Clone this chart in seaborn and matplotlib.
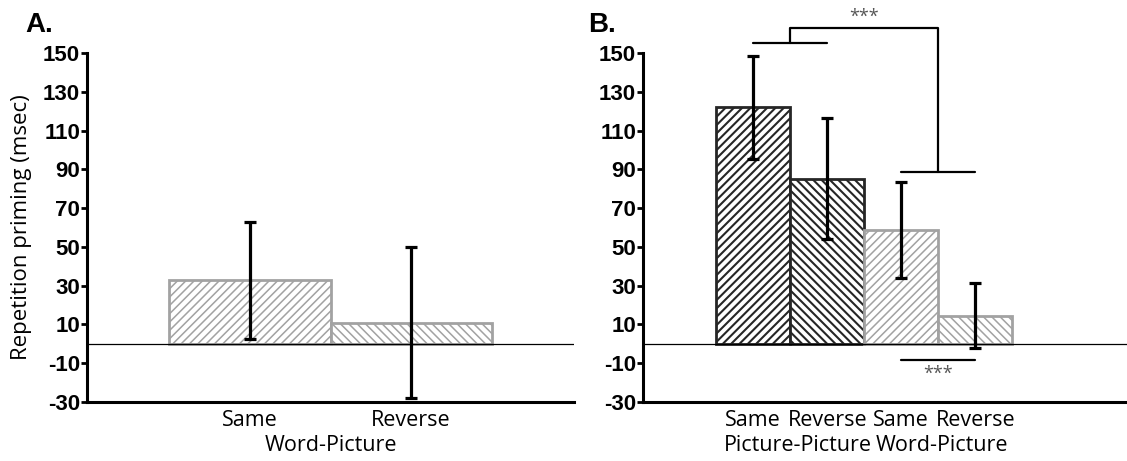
import seaborn as sns
import matplotlib.pyplot as plt
import pandas as pd

# values (msec)
a_conds = ["WP-Same", "WP-Reverse"]
a_ticks = ["Same", "Reverse"]
a_means = [32.7, 11.0]
a_errs = [30.3, 39.0]

b_conds = ["PP-Same", "PP-Reverse", "WP-Same", "WP-Reverse"]
b_ticks = ["Same", "Reverse", "Same", "Reverse"]
b_means = [122.0, 85.2, 58.8, 14.5]
b_errs = [26.6, 31.1, 24.9, 16.8]

y_ticks = list(range(150, -31, -20))

# colours
dark = "#262626"
light = "#a2a2a2"

sns.set_style("white")
plt.rcParams["font.family"] = ["Open Sans", "DejaVu Sans"]
plt.rcParams["hatch.linewidth"] = 1.3
for key in ["text.color", "axes.labelcolor", "xtick.color", "ytick.color"]:
    plt.rcParams[key] = "black"

fig = plt.figure(figsize=(11.27, 4.61), dpi=100)
ax_a = fig.add_axes([87 / 1127, 1 - 402 / 461, 487 / 1127, 349 / 461])
ax_b = fig.add_axes([643 / 1127, 1 - 402 / 461, 484 / 1127, 349 / 461])


def draw_panel(ax, conds, means, errs, ticks, edge_cols, hatches):
    df = pd.DataFrame({"cond": conds, "mean": means})
    sns.barplot(data=df, x="cond", y="mean", width=1.0, color="white",
                linewidth=2.0, errorbar=None, ax=ax, zorder=2)
    for p, ec, h in zip(ax.patches, edge_cols, hatches):
        p.set_facecolor("white")
        p.set_edgecolor(ec)
        p.set_hatch(h)
        if hasattr(p, "set_hatch_linewidth"):
            p.set_hatch_linewidth(1.5 if ec == dark else 1.1)
    xs = [p.get_x() + p.get_width() / 2 for p in ax.patches]
    ax.errorbar(xs, means, yerr=errs, fmt="none", ecolor="black",
                elinewidth=2.3, capsize=4.5, capthick=2.3, zorder=4)
    ax.axhline(0, color="black", lw=0.9, zorder=3)

    ax.set_ylim(-30, 150)
    ax.set_yticks(y_ticks)
    ax.set_yticklabels([str(t) for t in y_ticks], family=["Liberation Sans", "DejaVu Sans"],
                       fontweight="bold", fontsize=16)
    ax.set_xticks(range(len(conds)))
    ax.set_xticklabels(ticks, fontsize=15.5)
    ax.set_xlabel("")
    ax.set_ylabel("")
    ax.tick_params(axis="y", direction="out", length=4, width=2, pad=1, left=True,
                   colors="black")
    ax.tick_params(axis="x", length=0, pad=6, colors="black")
    for s in ["top", "right"]:
        ax.spines[s].set_visible(False)
    for s in ["left", "bottom"]:
        ax.spines[s].set_linewidth(2.2)
        ax.spines[s].set_color("black")


# panel A
draw_panel(ax_a, a_conds, a_means, a_errs, a_ticks,
           [light, light], ["////", "\\\\\\\\"])
ax_a.set_xlim(-1.01, 2.01)
ax_a.set_ylabel("Repetition priming (msec)", fontsize=16, color="black")
ax_a.yaxis.set_label_coords(-0.112, 0.5)
ax_a.text(0.5, -0.125, "Word-Picture", transform=ax_a.get_xaxis_transform(),
          ha="center", va="center", fontsize=15.5)

# panel B
draw_panel(ax_b, b_conds, b_means, b_errs, b_ticks,
           [dark, dark, light, light],
           ["////", "\\\\\\\\", "////", "\\\\\\\\"])
ax_b.set_xlim(-1.49, 5.05)
ax_b.text(0.6, -0.125, "Picture-Picture", transform=ax_b.get_xaxis_transform(),
          ha="center", va="center", fontsize=15.5)
ax_b.text(2.55, -0.125, "Word-Picture", transform=ax_b.get_xaxis_transform(),
          ha="center", va="center", fontsize=15.5)

# significance brackets
br = dict(color="black", lw=1.6, clip_on=False, zorder=5)
ax_b.plot([0, 1], [155.1, 155.1], **br)
ax_b.plot([0.5, 0.5, 2.5, 2.5], [155.1, 162.9, 162.9, 88.6], **br)
ax_b.plot([2, 3], [88.6, 88.6], **br)
ax_b.text(1.5, 168.5, "***", ha="center", va="center", fontsize=13,
          color="#555555", clip_on=False)
ax_b.plot([2, 3], [-8.4, -8.4], **br)
ax_b.text(2.5, -15.5, "***", ha="center", va="center", fontsize=13,
          color="#555555")

# panel letters
fig.text(25 / 1127, 1 - 32 / 461, "A.", fontsize=20, fontweight="bold",
         family=["Liberation Sans", "DejaVu Sans"], va="baseline")
fig.text(588 / 1127, 1 - 32 / 461, "B.", fontsize=20, fontweight="bold",
         family=["Liberation Sans", "DejaVu Sans"], va="baseline")

fig.savefig("out.png", dpi=100)
